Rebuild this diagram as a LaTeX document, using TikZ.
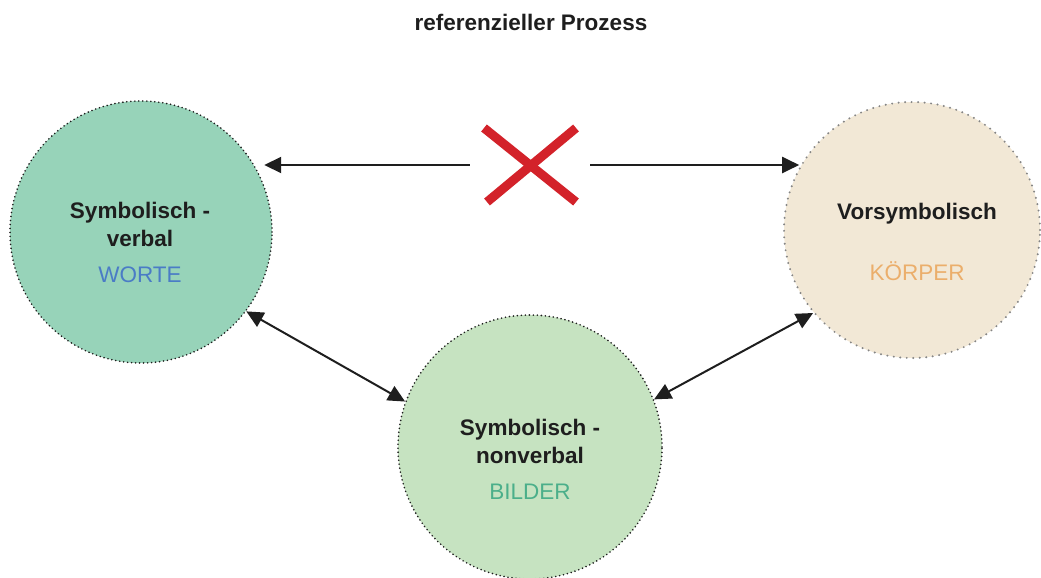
\documentclass[tikz,border=0pt]{standalone}
\usepackage{fontspec}
\setmainfont{Liberation Sans}
\usetikzlibrary{arrows.meta}
\definecolor{verbalfill}{HTML}{97D3B9}
\definecolor{nonverbalfill}{HTML}{C6E3C1}
\definecolor{vorfill}{HTML}{F2E8D6}
\definecolor{worteblue}{HTML}{4A7CC6}
\definecolor{bildergreen}{HTML}{4BAF8A}
\definecolor{koerperorange}{HTML}{EBAE6B}
\definecolor{crossred}{HTML}{D3222A}
\definecolor{inkdark}{HTML}{1E1E1E}
\definecolor{dotgray}{HTML}{858585}

\begin{document}
\begin{tikzpicture}[x=1pt,y=-1pt]
 \tikzset{phase circle/.style={
    circle, draw=inkdark, line width=1.8pt,
    dash pattern=on 0pt off 4pt, line cap=round,
    inner sep=0pt
  },
  light phase circle/.style={
    phase circle, draw=dotgray, line width=2.2pt,
    dash pattern=on 0pt off 6.5pt
  },
  main label/.style={
    font=\bfseries\fontsize{22.5}{27}\selectfont,
    text=inkdark, anchor=base, inner sep=0pt
  },
  sub label/.style={
    font=\fontsize{22.5}{27}\selectfont,
    text=#1, anchor=base, inner sep=0pt
  },
  link/.style={line width=2pt, draw=inkdark, >={Triangle[length=17pt,width=16pt]}, ->},
  double link/.style={link, <->}
}
\useasboundingbox (0,0) rectangle (1041,578);

\node[main label] (title) at (531,31) {referenzieller Prozess};

\node[phase circle, fill=verbalfill, minimum size=262pt] (sv) at (141,232) {};
\node[light phase circle, fill=vorfill, minimum size=256pt] (vs) at (912,230) {};
\node[phase circle, fill=nonverbalfill, minimum size=264pt] (sn) at (530,447) {};

\node[main label] (svtitle) at (140,218) {Symbolisch -};
\node[main label] (svtitlerest) at (140,246) {verbal};
\node[sub label=worteblue] (svsub) at (140,282) {WORTE};

\node[main label] (vstitle) at (917,219) {Vorsymbolisch};
\node[sub label=koerperorange] (vssub) at (917,280) {KÖRPER};

\node[main label] (sntitle) at (530,435) {Symbolisch -};
\node[main label] (sntitlerest) at (530,463) {nonverbal};
\node[sub label=bildergreen] (snsub) at (530,499) {BILDER};

% the crossed-out link
\node[minimum width=120pt, minimum height=80pt, inner sep=0pt] (cross) at (530,165) {};
\draw[crossred, line width=9pt] (cross.center) +(-46,-37) -- +(46,37);
\draw[crossred, line width=9pt] (cross.center) +(-43,37) -- +(46,-37);

\draw[link, shorten >=9pt] (cross.west) -- (cross.west -| sv.30);
\draw[link, shorten >=1pt] (cross.east) -- (cross.east -| vs.150);
\draw[double link] (sv.-37) -- (sn.160);
\draw[double link] (sn.21) -- (vs.220);
\end{tikzpicture}
\end{document}
